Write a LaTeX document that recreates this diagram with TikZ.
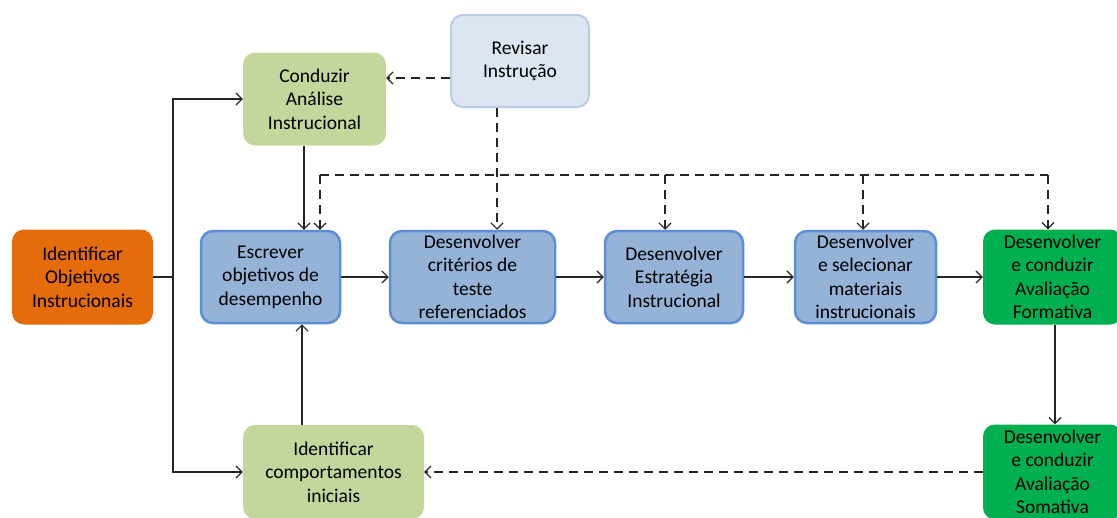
\documentclass[tikz,border=0pt]{standalone}
\usepackage{fontspec}
\setmainfont{Carlito}
\usetikzlibrary{arrows.meta}
\definecolor{orng}{HTML}{E46C0A}
\definecolor{lgreen}{HTML}{C3D69B}
\definecolor{lblue}{HTML}{DCE6F2}
\definecolor{lbluebd}{HTML}{B9CDE5}
\definecolor{bfill}{HTML}{95B3D7}
\definecolor{bbd}{HTML}{5B8ED6}
\definecolor{dgreen}{HTML}{00B050}
\tikzset{
  box/.style={rectangle, rounded corners=12pt, align=center, inner sep=0pt,
    font=\fontsize{19.5}{23.5}\selectfont, text=black},
  orangebox/.style={box, fill=orng},
  lgbox/.style={box, fill=lgreen},
  revbox/.style={box, fill=lblue, draw=lbluebd, line width=2pt},
  bluebox/.style={box, fill=bfill, draw=bbd, line width=2.5pt},
  greenbox/.style={box, fill=dgreen},
  arr/.style={draw=black!85, line width=1.3pt, -{Straight Barb[length=6pt,width=12pt,line width=1.2pt]}},
  ln/.style={draw=black!85, line width=1.3pt},
  dsh/.style={dash pattern=on 9pt off 6pt}
}
\begin{document}
\begin{tikzpicture}[x=1pt,y=-1pt]
\useasboundingbox (0,0) rectangle (1117,517);
\clip (0,0) rectangle (1117,517);
% nodes
\node[orangebox, minimum width=141pt, minimum height=95pt] (obj) at (82.5,277) {Identificar\\Objetivos\\Instrucionais};
\node[lgbox, minimum width=143pt, minimum height=93pt] (cond) at (314.5,99) {Conduzir\\Análise\\Instrucional};
\node[revbox, minimum width=138pt, minimum height=92pt] (rev) at (520,61) {Revisar\\Instrução};
\node[bluebox, minimum width=139pt, minimum height=92pt] (esc) at (270.5,277) {Escrever\\objetivos de\\desempenho};
\node[bluebox, minimum width=165pt, minimum height=92pt] (crit) at (472.5,277) {Desenvolver\\critérios de\\teste\\referenciados};
\node[bluebox, minimum width=138pt, minimum height=92pt] (estr) at (674,277) {Desenvolver\\Estratégia\\Instrucional};
\node[bluebox, minimum width=141pt, minimum height=92pt] (mat) at (865.5,277) {Desenvolver\\e selecionar\\materiais\\instrucionais};
\node[greenbox, minimum width=139pt, minimum height=95pt] (form) at (1052.5,277) {Desenvolver\\e conduzir\\Avaliação\\Formativa};
\node[greenbox, minimum width=139pt, minimum height=95pt] (som) at (1052.5,472) {Desenvolver\\e conduzir\\Avaliação\\Somativa};
\node[lgbox, minimum width=181pt, minimum height=94pt] (comp) at (333.5,472) {Identificar\\comportamentos\\iniciais};
% helper coordinates
\coordinate (j) at (173,277);
\coordinate (xa) at (304,0);
\coordinate (xb) at (302,0);
\coordinate (bus) at (0,175);
\coordinate (d1) at (320,0);
\coordinate (d2) at (497,0);
\coordinate (d3) at (665,0);
\coordinate (d4) at (863,0);
\coordinate (d5) at (1048,0);
\coordinate (d6) at (1055,0);
\coordinate (r1) at ([yshift=-17pt]rev.west);
% solid connectors
\draw[ln] (obj.east) -- (j);
\draw[arr] (j) |- (cond.west);
\draw[arr] (j) |- (comp.west);
\draw[arr] (cond.south -| xa) -- (esc.north -| xa);
\draw[arr] (comp.north -| xb) -- (esc.south -| xb);
\draw[arr] (esc.east) -- (crit.west);
\draw[arr] (crit.east) -- (estr.west);
\draw[arr] (estr.east) -- (mat.west);
\draw[arr] (mat.east) -- (form.west);
\draw[arr] (form.south -| d6) -- (som.north -| d6);
% dashed connectors
\draw[arr, dsh] (r1) -- (r1 -| cond.east);
\draw[arr, dsh] (rev.south -| d2) -- (crit.north -| d2);
\draw[ln, dsh] (d1 |- bus) -- (d5 |- bus);
\draw[arr, dsh] (d1 |- bus) -- (esc.north -| d1);
\draw[arr, dsh] (d3 |- bus) -- (estr.north -| d3);
\draw[arr, dsh] (d4 |- bus) -- (mat.north -| d4);
\draw[arr, dsh] (d5 |- bus) -- (form.north -| d5);
\draw[arr, dsh] (som.west) -- (comp.east);
\end{tikzpicture}
\end{document}
